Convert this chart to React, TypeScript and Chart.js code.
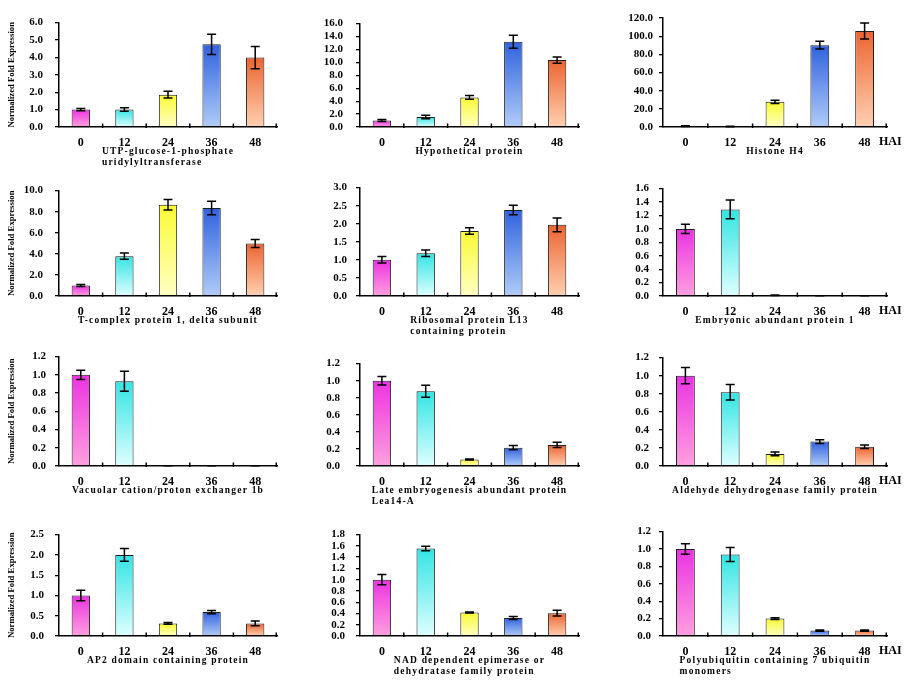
import React, { useEffect, useRef } from 'react';
import { Chart, registerables } from 'chart.js';

Chart.register(...registerables);

const FONT = '"Liberation Serif", "Times New Roman", serif';

// hours after inoculation
const hours = ['0', '12', '24', '36', '48'];

const genes = [
  ['UTP-glucose-1-phosphate', 'uridylyltransferase'],
  ['Hypothetical protein'],
  ['Histone H4'],
  ['T-complex protein 1, delta subunit'],
  ['Ribosomal protein L13', 'containing protein'],
  ['Embryonic abundant protein 1'],
  ['Vacuolar cation/proton exchanger 1b'],
  ['Late embryogenesis abundant protein', 'Lea14-A'],
  ['Aldehyde dehydrogenase family protein'],
  ['AP2 domain containing protein'],
  ['NAD dependent epimerase or', 'dehydratase family protein'],
  ['Polyubiquitin containing 7 ubiquitin', 'monomers'],
];

const means = [
  [1.0, 1.0, 1.86, 4.75, 3.99],
  [1.0, 1.54, 4.58, 13.2, 10.35],
  [1.0, 0.6, 27.7, 90.1, 105.6],
  [1.0, 3.78, 8.66, 8.35, 4.97],
  [1.0, 1.18, 1.8, 2.38, 1.97],
  [1.0, 1.29, 0.01, 0.003, 0.003],
  [1.0, 0.93, 0.003, 0.003, 0.003],
  [1.0, 0.876, 0.076, 0.215, 0.247],
  [1.0, 0.817, 0.134, 0.27, 0.213],
  [1.0, 2.0, 0.31, 0.59, 0.31],
  [1.0, 1.554, 0.417, 0.32, 0.406],
  [1.0, 0.937, 0.2, 0.063, 0.063],
];

const errors = [
  [0.06, 0.1, 0.2, 0.58, 0.64],
  [0.15, 0.27, 0.28, 1.0, 0.5],
  [0.4, 0.3, 1.8, 4.2, 8.8],
  [0.1, 0.3, 0.49, 0.64, 0.38],
  [0.09, 0.09, 0.09, 0.13, 0.19],
  [0.07, 0.14, 0.004, 0.001, 0.001],
  [0.05, 0.11, 0.001, 0.001, 0.001],
  [0.05, 0.07, 0.007, 0.025, 0.03],
  [0.09, 0.085, 0.02, 0.02, 0.02],
  [0.13, 0.16, 0.02, 0.04, 0.06],
  [0.09, 0.04, 0.01, 0.025, 0.05],
  [0.06, 0.08, 0.01, 0.007, 0.007],
];

const yMax = [6, 16, 120, 10, 3, 1.6, 1.2, 1.2, 1.2, 2.5, 1.8, 1.2];
const yStep = [1, 2, 20, 2, 0.5, 0.2, 0.2, 0.2, 0.2, 0.5, 0.2, 0.2];

// [top, bottom] gradient per time point
const barColors = [
  ['rgb(236,50,226)', 'rgb(255,160,222)'],
  ['rgb(50,228,228)', 'rgb(222,255,255)'],
  ['rgb(250,250,50)', 'rgb(255,255,196)'],
  ['rgb(48,98,222)', 'rgb(176,204,248)'],
  ['rgb(236,100,48)', 'rgb(255,208,178)'],
];

// page layout of the 4x3 grid
const COL_LEFT = [0, 300, 600];
const COL_W = [300, 300, 306];
const AXIS_X = [59, 360, 663];
const RIGHT_X = [277, 579, 887];
const ROW_TOP = [18, 186, 355, 531];
const ROW_BASE = [127, 296, 466, 636];
const LABEL_GAP = [12, 13, 6, 12, 9, 10, 9, 16, 10, 11, 11, 8];
const PAD_TOP = 14;
const X_H = 24;
const CAPTION_H = 40;

const makeDecor = (idx: number, col: number) => ({
  id: 'decor' + idx,
  afterDatasetsDraw(chart: any) {
    const { ctx, scales } = chart;
    const x = scales.x, y = scales.y;
    ctx.save();
    ctx.strokeStyle = '#000';
    ctx.lineWidth = 1.5;
    means[idx].forEach((m, i) => {
      const e = errors[idx][i];
      const cx = x.getPixelForValue(i);
      const yt = y.getPixelForValue(m + e);
      const yb = y.getPixelForValue(Math.max(0, m - e));
      ctx.beginPath();
      ctx.moveTo(cx, yt);
      ctx.lineTo(cx, yb);
      ctx.moveTo(cx - 4.5, yt);
      ctx.lineTo(cx + 4.5, yt);
      ctx.moveTo(cx - 4.5, yb);
      ctx.lineTo(cx + 4.5, yb);
      ctx.stroke();
    });
    ctx.restore();
  },
  afterDraw(chart: any) {
    const { ctx, chartArea: a, scales } = chart;
    const x = scales.x;
    ctx.save();
    ctx.strokeStyle = '#000';
    ctx.lineWidth = 1.5;
    // category boundary ticks
    for (let i = 1; i <= hours.length; i++) {
      const bx = Math.min(x.getPixelForValue(i - 0.5), a.right - 0.75);
      ctx.beginPath();
      ctx.moveTo(bx, a.bottom - 3.5);
      ctx.lineTo(bx, a.bottom + 1);
      ctx.stroke();
    }
    ctx.fillStyle = '#000';
    // gene caption under the axis
    ctx.font = `bold 9.5px ${FONT}`;
    (ctx as any).letterSpacing = '1.2px';
    const lines = genes[idx];
    const maxW = Math.max(...lines.map((l) => ctx.measureText(l).width));
    const sx = (a.left + a.right) / 2 - maxW / 2;
    ctx.textAlign = 'left';
    ctx.textBaseline = 'middle';
    lines.forEach((l, i) => ctx.fillText(l, sx, a.bottom + 25 + i * 10.5));
    (ctx as any).letterSpacing = '0px';
    if (col === 2) {
      ctx.font = `bold 12px ${FONT}`;
      ctx.fillText('HAI', a.right - 8, a.bottom + 14.5);
    }
    if (col === 0) {
      ctx.translate(11.5, (a.top + a.bottom) / 2);
      ctx.rotate(-Math.PI / 2);
      ctx.textAlign = 'center';
      ctx.font = `bold 8.7px ${FONT}`;
      ctx.fillText('Normalized Fold Expression', 0, 0);
    }
    ctx.restore();
  },
});

const Panel = ({ idx }: { idx: number }) => {
  const canvasRef = useRef<HTMLCanvasElement | null>(null);
  const col = idx % 3;
  const row = Math.floor(idx / 3);
  const left = COL_LEFT[col];
  const w = COL_W[col];
  const areaH = ROW_BASE[row] - ROW_TOP[row];
  const top = ROW_TOP[row] - PAD_TOP;
  const h = PAD_TOP + areaH + X_H + CAPTION_H;

  useEffect(() => {
    if (!canvasRef.current) return;
    const chart = new Chart(canvasRef.current, {
      type: 'bar',
      data: {
        labels: hours,
        datasets: [
          {
            data: means[idx],
            borderColor: '#1e1e1e',
            borderWidth: 1,
            barPercentage: 0.42,
            categoryPercentage: 1,
            backgroundColor: (c: any) => {
              const [topC, botC] = barColors[c.dataIndex % barColors.length];
              const { chart: ch } = c;
              if (!ch.chartArea || c.type !== 'data') return topC;
              const ys = ch.scales.y;
              const yt = ys.getPixelForValue(means[idx][c.dataIndex]);
              const yb = ys.getPixelForValue(0);
              if (!(yb - yt > 0.5)) return topC;
              const g = ch.ctx.createLinearGradient(0, yt, 0, yb);
              g.addColorStop(0, topC);
              g.addColorStop(1, botC);
              return g;
            },
          },
        ],
      },
      options: {
        animation: false,
        responsive: false,
        devicePixelRatio: 1,
        layout: {
          padding: {
            top: PAD_TOP,
            left: 0,
            right: w - (RIGHT_X[col] - left),
            bottom: h - PAD_TOP - areaH - X_H,
          },
        },
        plugins: { legend: { display: false }, tooltip: { enabled: false } },
        scales: {
          x: {
            afterFit: (s: any) => { s.height = X_H; },
            grid: { display: false, drawTicks: false },
            border: { display: true, color: '#000', width: 1.5, z: 1 },
            ticks: { color: '#000', padding: 9, autoSkip: false, maxRotation: 0, font: { family: FONT, size: 12, weight: 'bold' } },
          },
          y: {
            min: 0,
            max: yMax[idx],
            afterFit: (s: any) => { s.width = AXIS_X[col] - left; },
            grid: { drawOnChartArea: false, drawTicks: true, tickLength: 4, color: '#000', lineWidth: 1.3 },
            border: { display: true, color: '#000', width: 1.5, z: 1 },
            ticks: {
              stepSize: yStep[idx],
              autoSkip: false,
              padding: LABEL_GAP[idx],
              color: '#000',
              font: { family: FONT, size: 11, weight: 'bold' },
              callback: (v: any) => Number(v).toFixed(1),
            },
          },
        },
      },
      plugins: [makeDecor(idx, col)],
    } as any);
    return () => chart.destroy();
  }, [idx]);

  return (
    <canvas
      ref={canvasRef}
      width={w}
      height={h}
      style={{ position: 'absolute', left, top, width: w, height: h }}
    />
  );
};

export default function App() {
  return (
    <div style={{ position: 'absolute', left: 0, top: 0, width: 906, height: 680, background: '#fff' }}>
      {genes.map((_, i) => (
        <Panel key={i} idx={i} />
      ))}
    </div>
  );
}
